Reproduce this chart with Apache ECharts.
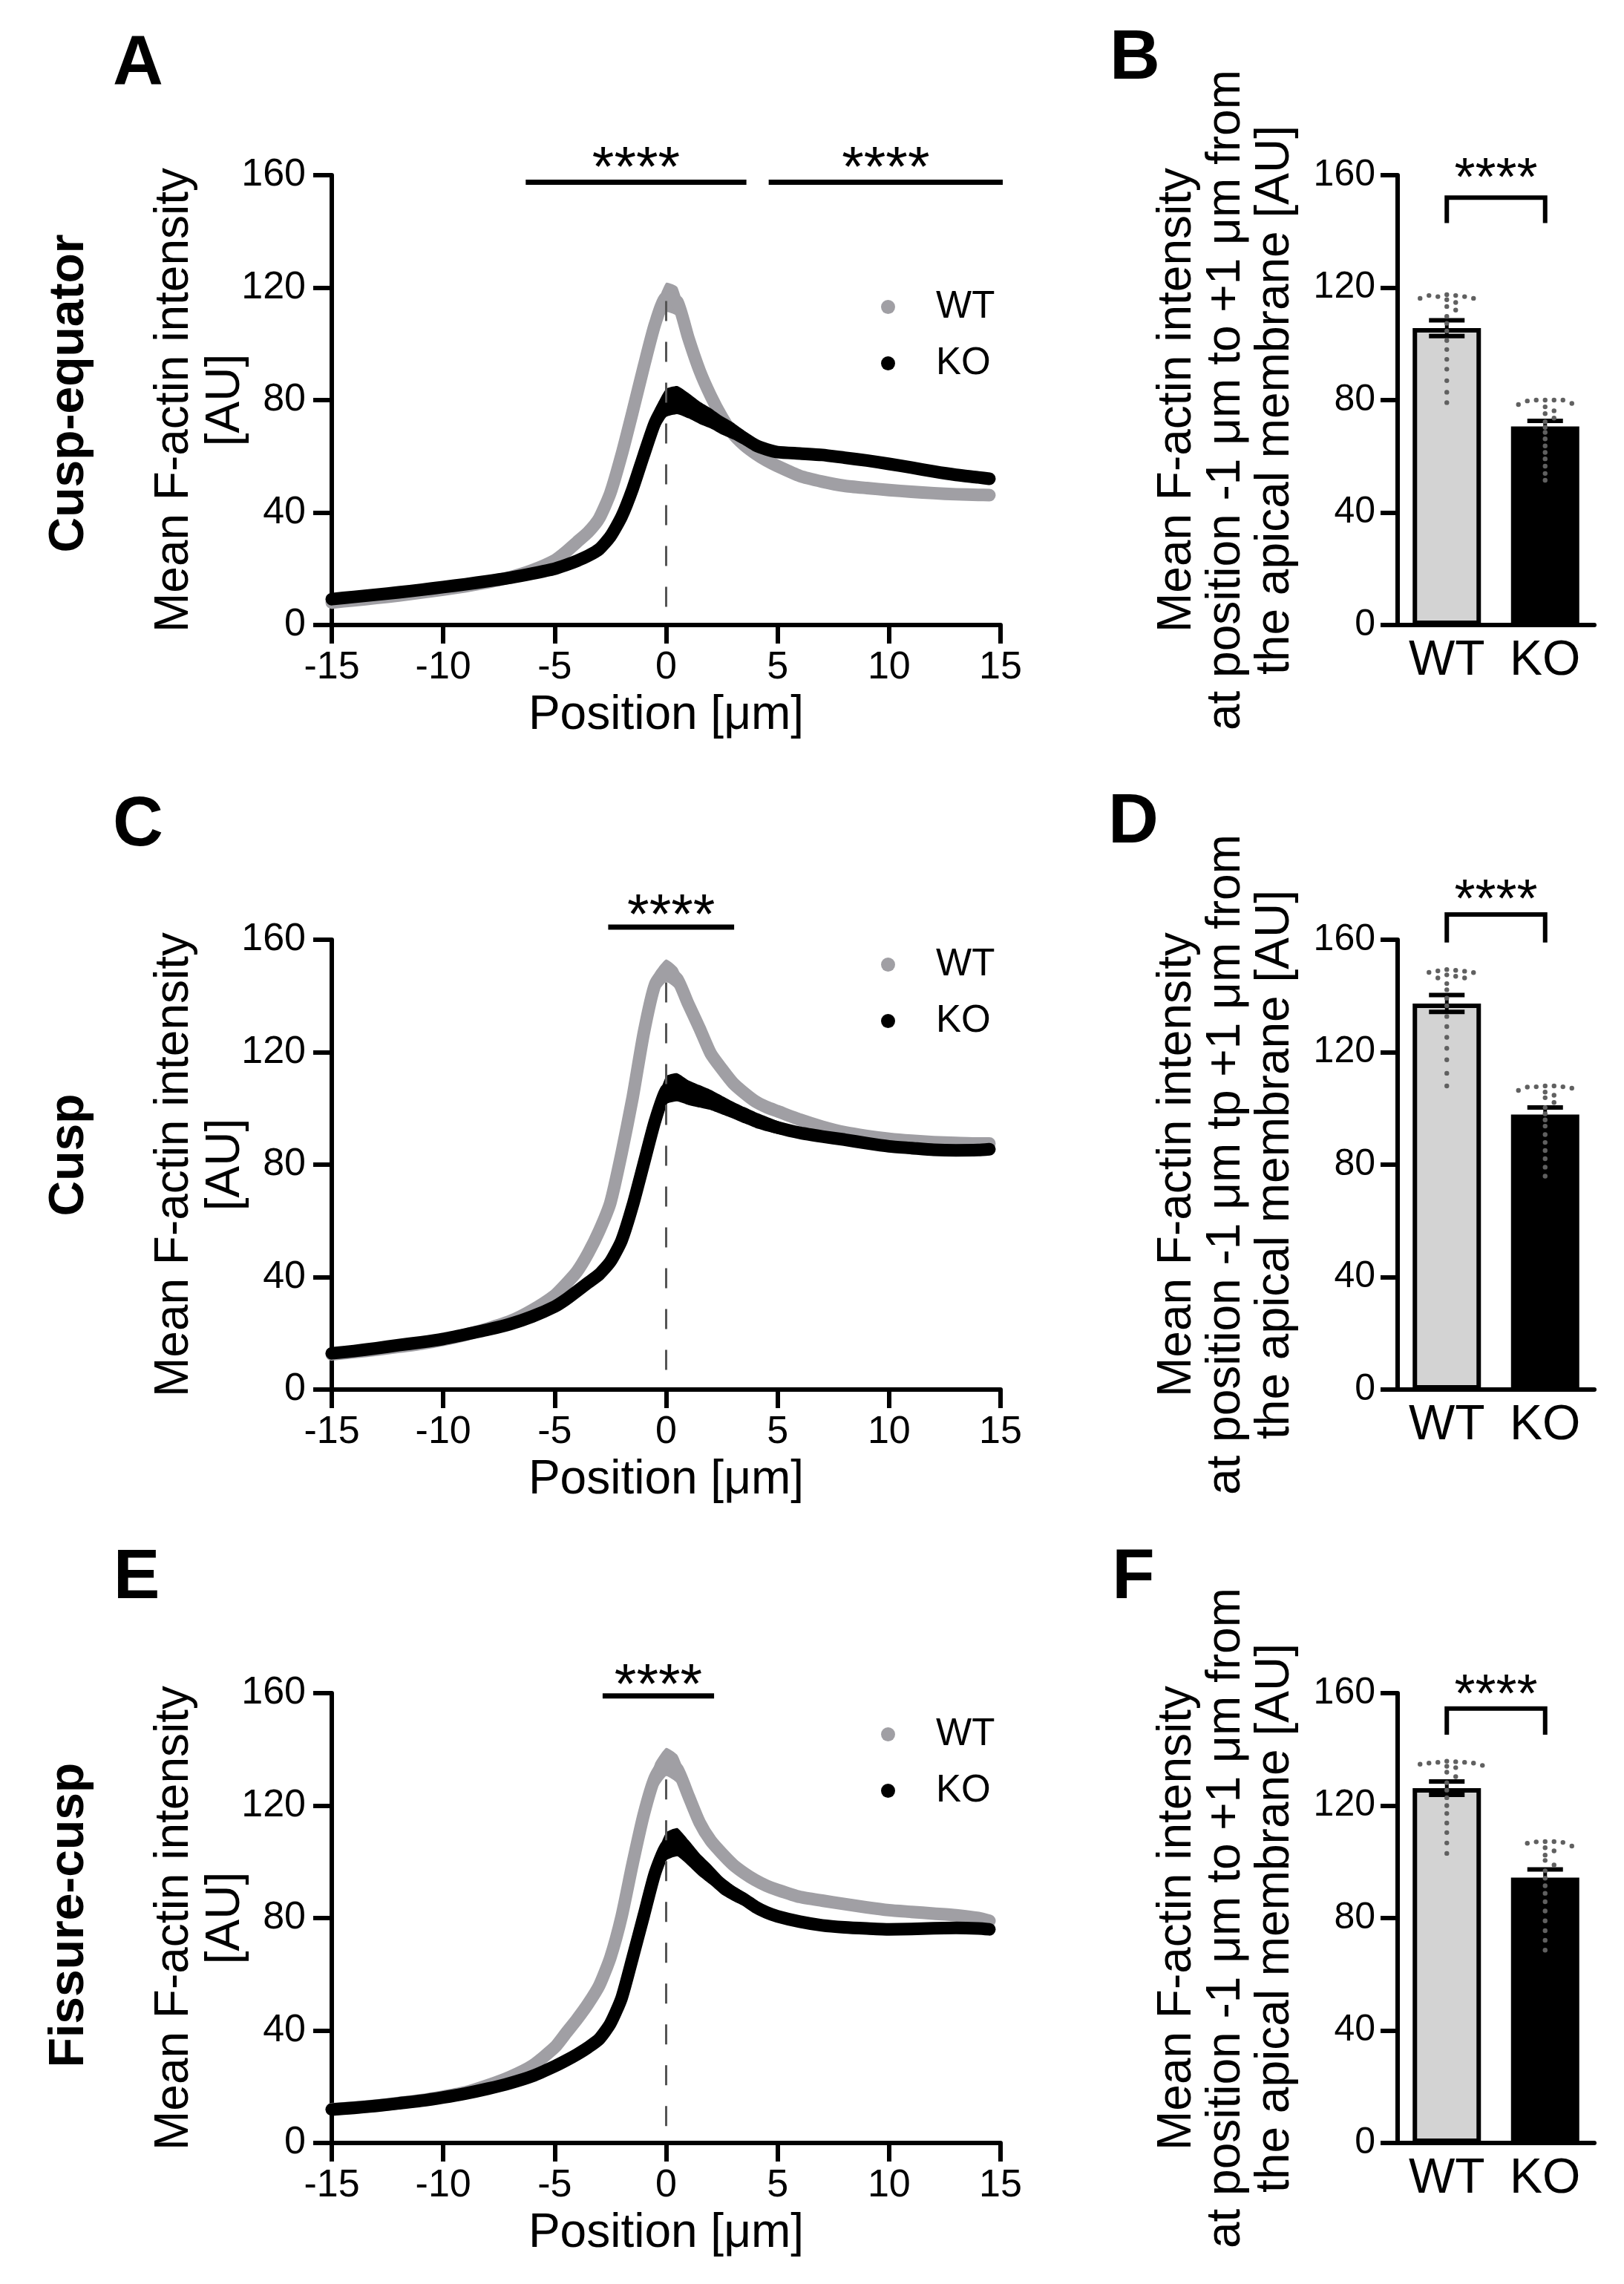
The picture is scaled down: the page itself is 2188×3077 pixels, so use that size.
<!DOCTYPE html>
<html>
<head>
<meta charset="utf-8">
<script src="https://cdn.jsdelivr.net/npm/echarts@6/dist/echarts.min.js"></script>
<style>
  html, body { margin: 0; padding: 0; background: #fff; }
  #main { width: 2188px; height: 3077px; }
</style>
</head>
<body>
<div id="main"></div>
<script>
// positions along the profile (µm)
var positions = [-15,-14,-13,-12,-11,-10,-9,-8,-7,-6,-5,-4.5,-4,-3.5,-3,-2.5,-2,-1.5,-1,-0.5,0,0.5,1,1.5,2,2.5,3,3.5,4,4.5,5,6,7,8,9,10,11,12,13,14,14.5];

// A - cusp-equator
var wtA    = [8,8.8,9.6,10.5,11.5,12.6,13.8,15.2,17,19.5,23,26,29.5,33,38,47,60.5,76,92,107,116.5,115,102,90.5,81.5,74,68,64,61,58.5,56.5,53,51,49.5,48.7,48,47.4,46.9,46.5,46.3,46.2];
var wtSemA = [0.5,0.5,0.5,0.5,0.5,0.5,0.5,0.5,0.5,0.5,0.7,0.9,1.1,1.4,1.9,2.6,3.4,4.2,4.8,5.2,5.2,5.2,4.8,4.2,3.5,2.8,2.2,1.7,1.3,1.1,1,0.9,0.9,0.9,0.9,0.9,0.9,0.9,1,1.3,1.6];
var koA    = [9.2,10,10.8,11.6,12.5,13.5,14.5,15.6,16.8,18.3,20,21.3,22.8,24.6,27,31.5,38.5,48.5,60.5,72,79,80,78,75.5,73.5,71,69,66.5,64,62.5,61.5,61,60.5,59.5,58.5,57.3,56,54.6,53.4,52.5,52];
var koSemA = [0.5,0.5,0.5,0.5,0.5,0.5,0.5,0.5,0.5,0.5,0.7,0.8,1,1.3,1.7,2.3,3,3.7,4.3,4.8,5,5,4.5,4,3.6,3.3,3,2.6,2.1,1.6,1.3,1.1,1.1,1.1,1.1,1.1,1.1,1.1,1,1,1];

// C - cusp
var wtC    = [12.5,13.3,14.2,15.2,16.3,17.7,19.5,21.7,24.3,28.3,33.5,37.5,42,48.5,56.5,66.5,84,104,127,144,149,146,137,128.5,119.5,114,109,105.5,102.5,100.5,99,96,93.5,91.5,90.2,89.2,88.5,88,87.7,87.5,87.5];
var wtSemC = [0.5,0.5,0.5,0.5,0.5,0.5,0.5,0.5,0.5,0.6,0.8,1,1.2,1.5,2,2.7,3.4,4,4.2,4.2,4,4,3.8,3.4,3,2.6,2.3,2,1.7,1.5,1.3,1.1,1.1,1.1,1.1,1.1,1.1,1.1,1.1,1.1,1.1];
var koC    = [12.9,13.7,14.7,15.8,16.8,18,19.6,21.3,23.3,26,29.5,32,35,38,41,45.5,53,65.5,80.5,95.5,106.5,107.5,105.6,104.3,103,101.2,99.4,97.6,95.9,94.5,93.2,91.3,90,88.9,87.6,86.5,85.9,85.3,85.1,85.2,85.5];
var koSemC = [0.5,0.5,0.5,0.5,0.5,0.5,0.5,0.5,0.5,0.5,0.7,0.8,0.9,1.1,1.4,1.9,2.6,3.3,4,4.6,5,5,4.4,4,3.6,3.3,3,2.9,2.8,2.6,2.3,1.6,1.3,1.1,1.1,1.1,1.1,1.1,1.1,1.1,1.1];

// E - fissure-cusp
var wtE    = [12,12.6,13.3,14.2,15.2,16.5,18,20.5,23.5,27.5,34,39,44,49.5,56,66,80.5,99.5,117,130,135.5,133,123.5,114,107.5,103,99,96,93.5,91.5,90,87.5,86.2,85,83.8,82.8,82.2,81.6,81,80,79];
var wtSemE = [0.5,0.5,0.5,0.5,0.5,0.5,0.5,0.5,0.5,0.6,0.9,1.1,1.3,1.6,2,2.6,3.3,4,4.5,5,5,5,4.5,3.8,3.2,2.7,2.3,2,1.8,1.6,1.4,1.3,1.3,1.3,1.3,1.3,1.3,1.3,1.3,1.3,1.3];
var koE    = [11.9,12.5,13.2,14.1,15,16.2,17.6,19.3,21.3,23.8,27.3,29.3,31.5,34,37,42.5,51.5,66,81,96,105.5,107,103.2,98.9,95.4,91.6,88.9,86.7,84,82,80.6,78.7,77.4,76.7,76.3,76,76.1,76.4,76.5,76.3,76];
var koSemE = [0.5,0.5,0.5,0.5,0.5,0.5,0.5,0.5,0.5,0.5,0.7,0.8,0.9,1.1,1.4,1.8,2.5,3.3,4,4.6,5,5,4.5,4,3.6,3.2,2.8,2.5,2.3,2.1,1.9,1.6,1.4,1.2,1.2,1.2,1.2,1.2,1.2,1.2,1.5];

// dashed guide at 0 µm: [from, to]
var dashA = [6.5, 117];
var dashC = [7, 146.5];
var dashE = [6, 132];

// significance bars: [x from, x to, bar level, star level]
var sigA = [[-6.3, 3.6, 157.5, 166.3], [4.6, 15.1, 157.5, 166.3]];
var sigC = [[-2.6, 3.05, 164.5, 172.5]];
var sigE = [[-2.85, 2.15, 159, 166.7]];

// bar panels
var groups = ['WT', 'KO'];
var meanB = [105.6, 70.6], semB = [2.8, 2.0];
var meanD = [137.3, 97.8], semD = [3.0, 2.5];
var meanF = [126.2, 94.4], semF = [2.4, 2.9];

var dotsB_WT = [117.5,117.2,116.8,116.8,117.2,116.2,116.2,115.7,114.7,113.3,112,109.8,107.3,104.6,101.2,98,94.5,91,86.9,82.8,79.1];
var dotsB_KO = [80,80,80,80,79.7,78.8,78.4,77.6,76.2,75.2,73.6,72.3,70.3,68.5,66.2,63.7,61.4,59.1,56.5,53.9,51.5];
var dotsD_WT = [149.4,149.1,148.9,148.8,148.4,148.3,147.5,147,146.4,146.4,144.4,142.2,139.2,136.5,132.7,129.1,125.3,121.4,117.3,112.5,108];
var dotsD_KO = [108,108,107.7,107.7,107.6,107.2,106.4,105.8,104.7,103.8,102.1,100.3,98.1,95.9,93.7,90.7,87.9,85,82.1,79.1,75.9];
var dotsF_WT = [135.8,135.6,135.4,135.4,135.1,135.1,134.7,134.3,134,133.5,131.9,130.3,128.1,125.5,122.8,120,117.2,113.8,110.4,106.7,103];
var dotsF_KO = [107.2,107.2,107.1,106.9,106.6,105.6,105,103.9,102.4,100.5,98.9,96.8,94.2,91.5,88.8,85.8,82.5,79,75.5,72.1,68.6];

// brackets: [top level, leg end, star level]
var brB = [152, 143, 162.7];
var brD = [169, 159, 178];
var brF = [154.5, 145.2, 163];

var GRAY = '#a09fa4';
var FONT = '"Liberation Sans", Arial, sans-serif';
var NARROW = '"Liberation Sans Narrow", "Arial Narrow", "Liberation Sans", sans-serif';

var plotH = 606;
var pxPerUnit = plotH / 160;

var chart = echarts.init(document.getElementById('main'));

function pairs(xs, ys) {
  return xs.map(function (x, i) { return [x, ys[i]]; });
}

// simple beeswarm so dots with the same value spread sideways
function swarm(values, step, minDist) {
  var placed = [];
  return values.map(function (v) {
    var y = v * pxPerUnit;
    for (var k = 0; k < 40; k++) {
      var o = k === 0 ? 0 : (k % 2 ? 1 : -1) * Math.ceil(k / 2) * step;
      var free = placed.every(function (p) {
        var dx = p[0] - o, dy = p[1] - y;
        return dx * dx + dy * dy >= minDist * minDist;
      });
      if (free) { placed.push([o, y]); return o; }
    }
    return 0;
  });
}

var grids = [
  { left: 447, top: 236, width: 901, height: plotH },
  { left: 447, top: 1266, width: 901, height: plotH },
  { left: 447, top: 2281, width: 901, height: plotH },
  { left: 1883, top: 236, width: 265, height: plotH },
  { left: 1883, top: 1266, width: 265, height: plotH },
  { left: 1883, top: 2281, width: 265, height: plotH }
];

var xAxes = [], yAxes = [], series = [], legends = [];

function lineAxes(gi) {
  xAxes.push({
    gridIndex: gi, type: 'value', min: -15, max: 15, interval: 5,
    axisLine: { onZero: false, lineStyle: { color: '#000', width: 6 } },
    axisTick: { length: 25, lineStyle: { color: '#000', width: 6 } },
    axisLabel: { fontSize: 52, color: '#000', margin: 32, fontFamily: NARROW },
    splitLine: { show: false },
    name: 'Position [μm]', nameLocation: 'middle', nameGap: 90,
    nameTextStyle: { fontSize: 64, color: '#000', fontFamily: FONT }
  });
  yAxes.push({
    gridIndex: gi, type: 'value', min: 0, max: 160, interval: 40,
    axisLine: { show: true, onZero: false, lineStyle: { color: '#000', width: 6 } },
    axisTick: { show: true, length: 25, lineStyle: { color: '#000', width: 6 } },
    axisLabel: { fontSize: 52, color: '#000', margin: 35, fontFamily: NARROW },
    splitLine: { show: false },
    name: 'Mean F-actin intensity\n[AU]', nameLocation: 'middle', nameRotate: 90,
    nameGap: 108, nameMoveOverlap: false,
    nameTextStyle: { fontSize: 64, lineHeight: 69, color: '#000', fontFamily: FONT, align: 'center' }
  });
}

function bandSeries(gi, mean, sem, color, z) {
  var pts = positions.map(function (x, i) { return [x, mean[i] - sem[i], mean[i] + sem[i]]; });
  return {
    type: 'custom', xAxisIndex: gi, yAxisIndex: gi, z: z, silent: true,
    data: pts,
    renderItem: function (params, api) {
      if (params.dataIndex !== 0) return null;
      var top = pts.map(function (p) { return api.coord([p[0], p[2]]); });
      var bot = pts.map(function (p) { return api.coord([p[0], p[1]]); }).reverse();
      return { type: 'polygon', shape: { points: top.concat(bot), smooth: 0.15 }, style: { fill: color } };
    }
  };
}

function profileSeries(gi, name, mean, color, z) {
  return {
    type: 'line', name: name, xAxisIndex: gi, yAxisIndex: gi, z: z,
    data: pairs(positions, mean), showSymbol: false, symbol: 'circle', smooth: 0.2,
    lineStyle: { color: color, width: 17, cap: 'round', join: 'round' },
    itemStyle: { color: color }
  };
}

function sigSeries(gi, sig) {
  return {
    type: 'custom', xAxisIndex: gi, yAxisIndex: gi, z: 10, clip: false, silent: true,
    data: sig,
    renderItem: function (params, api) {
      var a = api.coord([api.value(0), api.value(2)]);
      var b = api.coord([api.value(1), api.value(2)]);
      var s = api.coord([(api.value(0) + api.value(1)) / 2, api.value(3)]);
      return {
        type: 'group', children: [
          { type: 'line', shape: { x1: a[0], y1: a[1], x2: b[0], y2: b[1] }, style: { stroke: '#000', lineWidth: 7 } },
          { type: 'text', x: s[0], y: s[1] + 17, style: { text: '****', fontSize: 76, fontFamily: FONT, fill: '#000', align: 'center', verticalAlign: 'middle' } }
        ]
      };
    }
  };
}

function linePanel(gi, wt, wtSem, ko, koSem, dash, sig, legendTop) {
  lineAxes(gi);
  series.push(bandSeries(gi, wt, wtSem, GRAY, 1));
  series.push(profileSeries(gi, 'WT', wt, GRAY, 2));
  series.push(bandSeries(gi, ko, koSem, '#000', 3));
  series.push(profileSeries(gi, 'KO', ko, '#000', 4));
  series.push({
    type: 'line', xAxisIndex: gi, yAxisIndex: gi, z: 6, silent: true, symbol: 'none',
    data: [[0, dash[0]], [0, dash[1]]],
    lineStyle: { color: '#555', width: 3, type: [27, 28] }
  });
  series.push(sigSeries(gi, sig));
  legends.push({
    left: 1182, top: legendTop, orient: 'vertical', itemGap: 25,
    itemWidth: 19, itemHeight: 19, selectedMode: false,
    data: [{ name: 'WT', icon: 'circle' }, { name: 'KO', icon: 'circle' }],
    textStyle: { fontSize: 51, lineHeight: 51, color: '#000', fontFamily: FONT, padding: [0, 0, 0, 50] }
  });
}

function barPanel(gi, mean, sem, dotsWT, dotsKO, br, title) {
  xAxes.push({
    gridIndex: gi, type: 'category', data: groups,
    axisLine: { lineStyle: { color: '#000', width: 6 } },
    axisTick: { show: false },
    axisLabel: { interval: 0, fontSize: 66, color: '#000', margin: 16, fontFamily: FONT }
  });
  yAxes.push({
    gridIndex: gi, type: 'value', min: 0, max: 160, interval: 40,
    axisLine: { show: true, lineStyle: { color: '#000', width: 6 } },
    axisTick: { show: true, length: 23, lineStyle: { color: '#000', width: 6 } },
    axisLabel: { fontSize: 50, color: '#000', margin: 30, fontFamily: FONT },
    splitLine: { show: false },
    name: title, nameLocation: 'middle', nameRotate: 90, nameGap: 132,
    nameTextStyle: { fontSize: 64, lineHeight: 66, color: '#000', fontFamily: FONT, align: 'center' }
  });
  series.push({
    type: 'bar', xAxisIndex: gi, yAxisIndex: gi, barWidth: 92, z: 2, silent: true,
    data: [
      { value: mean[0], itemStyle: { color: '#d3d3d3', borderColor: '#000', borderWidth: 6 } },
      { value: mean[1], itemStyle: { color: '#000', borderColor: '#000', borderWidth: 6 } }
    ]
  });
  // error bars (mean ± SEM)
  series.push({
    type: 'custom', xAxisIndex: gi, yAxisIndex: gi, z: 3, silent: true,
    data: mean.map(function (m, i) { return [i, m - sem[i], m + sem[i]]; }),
    renderItem: function (params, api) {
      var lo = api.coord([api.value(0), api.value(1)]);
      var hi = api.coord([api.value(0), api.value(2)]);
      var w = 24;
      return {
        type: 'group', children: [
          { type: 'line', shape: { x1: lo[0], y1: lo[1], x2: hi[0], y2: hi[1] }, style: { stroke: '#000', lineWidth: 5 } },
          { type: 'line', shape: { x1: hi[0] - w, y1: hi[1], x2: hi[0] + w, y2: hi[1] }, style: { stroke: '#000', lineWidth: 6 } },
          { type: 'line', shape: { x1: lo[0] - w, y1: lo[1], x2: lo[0] + w, y2: lo[1] }, style: { stroke: '#000', lineWidth: 6 } }
        ]
      };
    }
  });
  // individual values
  var dots = [];
  [dotsWT, dotsKO].forEach(function (vals, gi2) {
    var offs = swarm(vals, 12, 6.5);
    vals.forEach(function (v, j) { dots.push([gi2, v, offs[j]]); });
  });
  series.push({
    type: 'custom', xAxisIndex: gi, yAxisIndex: gi, z: 4, silent: true,
    data: dots,
    renderItem: function (params, api) {
      var p = api.coord([api.value(0), api.value(1)]);
      return { type: 'circle', shape: { cx: p[0] + api.value(2), cy: p[1], r: 3.2 }, style: { fill: '#606060' } };
    }
  });
  // significance bracket
  series.push({
    type: 'custom', xAxisIndex: gi, yAxisIndex: gi, z: 5, clip: false, silent: true,
    data: [[0, 1, br[0], br[1], br[2]]],
    renderItem: function (params, api) {
      var a = api.coord([api.value(0), api.value(2)]);
      var b = api.coord([api.value(1), api.value(2)]);
      var la = api.coord([api.value(0), api.value(3)]);
      var lb = api.coord([api.value(1), api.value(3)]);
      var s = api.coord([0.5, api.value(4)]);
      return {
        type: 'group', children: [
          { type: 'polyline', shape: { points: [la, a, b, lb] }, style: { stroke: '#000', lineWidth: 6, fill: null } },
          { type: 'text', x: (a[0] + b[0]) / 2, y: s[1] + 17, style: { text: '****', fontSize: 72, fontFamily: FONT, fill: '#000', align: 'center', verticalAlign: 'middle' } }
        ]
      };
    }
  });
}

linePanel(0, wtA, wtSemA, koA, koSemA, dashA, sigA, 383);
linePanel(1, wtC, wtSemC, koC, koSemC, dashC, sigC, 1269);
linePanel(2, wtE, wtSemE, koE, koSemE, dashE, sigE, 2306);
barPanel(3, meanB, semB, dotsB_WT, dotsB_KO, brB,
  'Mean F-actin intensity\nat position -1 μm to +1 μm from\nthe apical membrane [AU]');
barPanel(4, meanD, semD, dotsD_WT, dotsD_KO, brD,
  'Mean F-actin intensity\nat position -1 μm tp +1 μm from\nthe apical membrane [AU]');
barPanel(5, meanF, semF, dotsF_WT, dotsF_KO, brF,
  'Mean F-actin intensity\nat position -1 μm to +1 μm from\nthe apical membrane [AU]');

function letter(t, x, y) {
  return { type: 'text', x: x, y: y, style: { text: t, fontSize: 94, fontWeight: 'bold', fontFamily: FONT, fill: '#000', align: 'center', verticalAlign: 'middle' } };
}
function rowLabel(t, y) {
  return { type: 'text', x: 94, y: y, rotation: Math.PI / 2, style: { text: t, fontSize: 66, fontWeight: 'bold', fontFamily: FONT, fill: '#000', align: 'center', verticalAlign: 'middle' } };
}

chart.setOption({
  backgroundColor: '#fff',
  animation: false,
  grid: grids,
  xAxis: xAxes,
  yAxis: yAxes,
  legend: legends,
  series: series,
  graphic: [
    letter('A', 186, 88), letter('B', 1529, 80),
    letter('C', 186, 1113), letter('D', 1527, 1109),
    letter('E', 184, 2127), letter('F', 1527, 2127),
    rowLabel('Cusp-equator', 530),
    rowLabel('Cusp', 1556),
    rowLabel('Fissure-cusp', 2580)
  ]
});
</script>
</body>
</html>
